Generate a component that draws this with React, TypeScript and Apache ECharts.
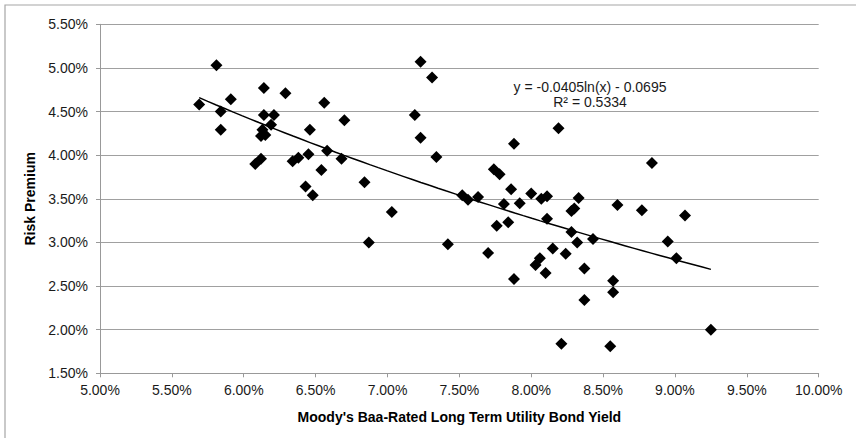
import React, { useEffect, useRef } from "react";
import * as echarts from "echarts";

// Moody's Baa-rated long term utility bond yield (%)
const bondYield = [
  5.69, 5.81, 5.91, 5.84, 5.84, 6.14, 6.14, 6.21, 6.19, 6.12,
  6.15, 6.13, 6.08, 6.12, 6.29, 6.34, 6.38, 6.56, 6.70, 6.46,
  6.45, 6.58, 6.68, 6.54, 6.43, 6.48, 6.84, 7.23, 7.31, 7.19,
  7.23, 7.34, 7.03, 6.87, 7.42, 7.70, 7.76, 7.84, 7.88, 8.21,
  8.03, 8.06, 8.10, 8.15, 8.24, 8.11, 8.28, 8.32, 8.19, 7.88,
  7.74, 7.78, 7.86, 8.00, 8.11, 8.07, 8.33, 8.28, 8.30, 7.81,
  7.92, 7.52, 7.56, 7.63, 8.43, 8.60, 8.37, 8.37, 8.57, 8.57,
  8.55, 8.84, 8.77, 9.07, 8.95, 9.01, 9.25,
];

// Risk premium (%)
const riskPremium = [
  4.58, 5.03, 4.64, 4.50, 4.29, 4.77, 4.46, 4.46, 4.35, 4.22,
  4.23, 4.29, 3.90, 3.96, 4.71, 3.93, 3.97, 4.60, 4.40, 4.29,
  4.01, 4.05, 3.96, 3.83, 3.64, 3.54, 3.69, 5.07, 4.89, 4.46,
  4.20, 3.98, 3.35, 3.00, 2.98, 2.88, 3.19, 3.23, 2.58, 1.84,
  2.74, 2.82, 2.65, 2.93, 2.87, 3.27, 3.12, 3.00, 4.31, 4.13,
  3.84, 3.78, 3.61, 3.56, 3.53, 3.50, 3.51, 3.36, 3.39, 3.44,
  3.45, 3.54, 3.49, 3.52, 3.04, 3.43, 2.70, 2.34, 2.56, 2.43,
  1.81, 3.91, 3.37, 3.31, 3.01, 2.82, 2.00,
];

// Axis ranges (%)
const X_MIN = 5.0;
const X_MAX = 10.0;
const X_INTERVAL = 0.5;
const Y_MIN = 1.5;
const Y_MAX = 5.5;
const Y_INTERVAL = 0.5;

// Logarithmic trendline shown on the chart: y = a ln(x) + b (decimal units)
const TREND_A = -0.0405;
const TREND_B = -0.0695;
const EQUATION_LABEL = "y = -0.0405ln(x) - 0.0695";
const R2_LABEL = "R² = 0.5334";

const X_TITLE = "Moody's Baa-Rated Long Term Utility Bond Yield";
const Y_TITLE = "Risk Premium";

const FONT = "'Liberation Sans', Arial, sans-serif";

export default function App() {
  const ref = useRef<HTMLDivElement>(null);

  useEffect(() => {
    if (!ref.current) return;
    const chart = echarts.init(ref.current, undefined, { renderer: "svg" });

    const points = bondYield.map((x, i) => [x, riskPremium[i]]);
    const xLo = Math.min(...bondYield);
    const xHi = Math.max(...bondYield);
    const steps = 60;
    const trend: number[][] = [];
    for (let i = 0; i <= steps; i++) {
      const x = xLo + ((xHi - xLo) * i) / steps;
      const y = (TREND_A * Math.log(x / 100) + TREND_B) * 100;
      trend.push([x, y]);
    }

    const fmt = (v: number) => v.toFixed(2) + "%";

    chart.setOption({
      animation: false,
      backgroundColor: "#ffffff",
      textStyle: { fontFamily: FONT },
      grid: { left: 100, right: 37.3, top: 24.3, bottom: 64.7, containLabel: false },
      graphic: [
        {
          type: "rect",
          shape: { x: 5, y: 5, width: 900, height: 500 },
          style: { fill: "none", stroke: "#a6a6a6", lineWidth: 1.2 },
          silent: true,
          z: -1,
        },
        {
          type: "text",
          x: 590,
          y: 79,
          style: {
            text: EQUATION_LABEL + "\n" + R2_LABEL,
            textAlign: "center",
            font: "14px " + FONT,
            fill: "#1a1a1a",
            lineHeight: 15.6,
          },
          z: 10,
        },
      ],
      xAxis: {
        type: "value",
        min: X_MIN,
        max: X_MAX,
        interval: X_INTERVAL,
        name: X_TITLE,
        nameLocation: "middle",
        nameGap: 37,
        nameTextStyle: { fontSize: 14, fontWeight: "bold", color: "#000", fontFamily: FONT },
        axisLine: { show: true, onZero: false, lineStyle: { color: "#999", width: 1 } },
        axisTick: { show: true, length: 4, lineStyle: { color: "#999" } },
        axisLabel: { formatter: fmt, fontSize: 14, color: "#1a1a1a", margin: 10, fontFamily: FONT },
        splitLine: { show: false },
      },
      yAxis: {
        type: "value",
        min: Y_MIN,
        max: Y_MAX,
        interval: Y_INTERVAL,
        name: Y_TITLE,
        nameLocation: "middle",
        nameGap: 53,
        nameRotate: 90,
        nameTextStyle: { fontSize: 14, fontWeight: "bold", color: "#000", fontFamily: FONT },
        axisLine: { show: true, onZero: false, lineStyle: { color: "#999", width: 1 } },
        axisTick: { show: true, length: 4, lineStyle: { color: "#999" } },
        axisLabel: { formatter: fmt, fontSize: 14, color: "#1a1a1a", margin: 12, fontFamily: FONT },
        splitLine: { show: true, lineStyle: { color: "#a0a0a0", width: 1 } },
      },
      series: [
        {
          type: "scatter",
          data: points,
          symbol: "diamond",
          symbolSize: 12,
          itemStyle: { color: "#000", opacity: 1 },
          z: 3,
        },
        {
          type: "line",
          data: trend,
          showSymbol: false,
          symbol: "none",
          lineStyle: { color: "#000", width: 1.5 },
          z: 4,
        },
      ],
    });

    return () => chart.dispose();
  }, []);

  return (
    <div
      ref={ref}
      style={{ position: "absolute", left: 0, top: 0, width: 856, height: 438 }}
    />
  );
}
